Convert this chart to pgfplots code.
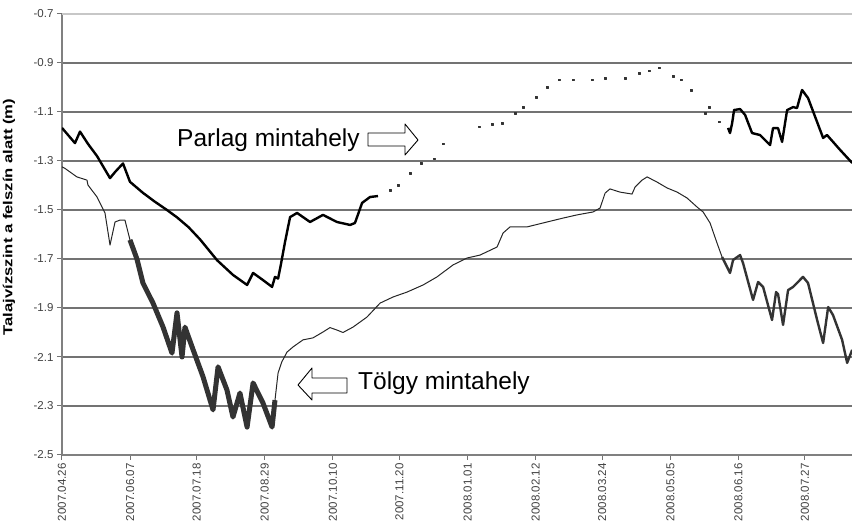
\documentclass[border=0pt]{standalone}
\usepackage{pgfplots}
\pgfplotsset{compat=1.18}
\usepackage{graphicx}
\usepackage{fontspec}
\setmainfont{Liberation Sans}

\pgfplotstableread{
day val
0 -1.165
8.0 -1.227
11.1 -1.18
16.0 -1.23
21.6 -1.28
29.6 -1.37
32.7 -1.345
37.6 -1.31
41.9 -1.385
49.9 -1.43
57.0 -1.465
64.7 -1.50
70.9 -1.53
78.0 -1.57
85.1 -1.62
95.6 -1.705
105.4 -1.765
114.1 -1.806
117.8 -1.757
123.9 -1.786
129.5 -1.814
131.3 -1.773
133.2 -1.78
135.0 -1.72
137.5 -1.63
140.6 -1.529
144.9 -1.512
152.9 -1.549
160.9 -1.52
169.5 -1.549
177.6 -1.561
180.6 -1.553
185.0 -1.471
189.9 -1.447
194.8 -1.443
}\parlagA

\pgfplotstableread{
day val
202.2 -1.42
207.2 -1.40
214.5 -1.35
221.3 -1.31
229.3 -1.29
234.9 -1.23
257.1 -1.16
265.1 -1.15
271.3 -1.145
279.3 -1.104
284.2 -1.08
292.2 -1.04
299.0 -0.998
306.4 -0.969
315.0 -0.969
326.8 -0.969
334.8 -0.961
347.1 -0.961
355.7 -0.942
361.9 -0.932
368.1 -0.920
376.7 -0.953
381.6 -0.969
387.8 -1.01
396.4 -1.105
398.9 -1.08
405.1 -1.14
}\parlagDots

\pgfplotstableread{
day val
410.6 -1.165
411.8 -1.186
413.1 -1.146
414.3 -1.092
418.0 -1.088
421.1 -1.112
425.4 -1.186
430.3 -1.194
436.5 -1.235
438.3 -1.166
441.4 -1.166
443.9 -1.222
447.0 -1.092
450.7 -1.08
453.1 -1.084
456.2 -1.01
459.9 -1.043
469.2 -1.206
471.6 -1.194
479.7 -1.255
487.1 -1.308
}\parlagB

\pgfplotstableread{
day val
0 -1.324
1.8 -1.33
9.2 -1.365
15.4 -1.378
16.0 -1.398
21.6 -1.447
26.5 -1.512
29.6 -1.643
32.7 -1.549
35.8 -1.541
38.8 -1.541
41.9 -1.622
}\tolgyA

\pgfplotstableread{
day val
41.9 -1.622
46.2 -1.70
49.9 -1.798
56.1 -1.88
62.3 -1.978
67.8 -2.084
70.9 -1.92
74.0 -2.10
75.8 -1.978
80.8 -2.07
86.9 -2.18
93.1 -2.316
96.2 -2.14
101.7 -2.235
105.4 -2.345
109.7 -2.247
114.1 -2.386
117.8 -2.206
123.9 -2.288
129.5 -2.386
131.3 -2.276
}\tolgyB

\pgfplotstableread{
day val
131.3 -2.276
133.2 -2.165
135.5 -2.12
138.7 -2.08
142.4 -2.059
148.6 -2.03
154.7 -2.022
160.9 -1.998
165.2 -1.98
169.5 -1.99
173.2 -2.0
179.4 -1.978
188.0 -1.937
196.1 -1.88
204.1 -1.855
212.7 -1.835
222.6 -1.806
231.2 -1.773
241.1 -1.724
249.7 -1.696
257.7 -1.684
268.2 -1.651
271.9 -1.594
276.2 -1.569
286.7 -1.569
299.0 -1.549
308.9 -1.533
317.5 -1.52
327.4 -1.508
331.7 -1.492
334.8 -1.431
337.8 -1.414
344.0 -1.427
351.4 -1.435
353.3 -1.406
357.6 -1.378
360.7 -1.365
366.8 -1.386
373.0 -1.41
379.2 -1.427
385.3 -1.451
391.5 -1.488
395.2 -1.508
399.5 -1.553
403.8 -1.635
406.9 -1.692
}\tolgyC

\pgfplotstableread{
day val
406.9 -1.692
411.8 -1.757
413.7 -1.704
418.0 -1.684
419.8 -1.716
426.0 -1.867
429.1 -1.794
432.2 -1.814
437.7 -1.949
440.2 -1.835
441.4 -1.843
444.5 -1.969
447.6 -1.827
450.7 -1.814
456.8 -1.773
459.9 -1.798
465.5 -1.949
469.2 -2.043
472.3 -1.896
475.3 -1.929
480.9 -2.03
484.0 -2.124
487.1 -2.071
}\tolgyD

\begin{document}
\begin{tikzpicture}[line join=round, line cap=round]
\begin{axis}[
  at={(0pt,0pt)}, anchor=south west,
  scale only axis, width=790pt, height=441pt,
  xmin=0, xmax=487, ymin=-2.5, ymax=-0.7,
  axis x line=bottom, axis y line=left,
  axis line style={-, black!50, line width=1.2pt},
  clip=true,
  ytick={-2.5,-2.3,-2.1,-1.9,-1.7,-1.5,-1.3,-1.1,-0.9},
  yticklabels={-2.5,-2.3,-2.1,-1.9,-1.7,-1.5,-1.3,-1.1,-0.9},
  extra y ticks={-0.7}, extra y tick labels={-0.7},
  extra y tick style={grid style={black!22, line width=1.2pt}},
  ymajorgrids,
  grid style={black!55, line width=1.1pt},
  xtick={0,42,83,125,167,208,250,292,333,375,417,458},
  xticklabels={2007.04.26,2007.06.07,2007.07.18,2007.08.29,2007.10.10,2007.11.20,2008.01.01,2008.02.12,2008.03.24,2008.05.05,2008.06.16,2008.07.27},
  x tick label style={rotate=90, anchor=east},
  tick label style={font=\fontsize{11.5}{12}\selectfont, text=black!75},
  tick align=outside, major tick length=5pt,
  tick style={black!55, line width=1pt},
]
\addplot[black, line width=2.4pt] table[x=day,y=val] {\parlagA};
\addplot[black!80, only marks, mark=square*, mark size=0.8pt] table[x=day,y=val] {\parlagDots};
\addplot[black, line width=2.4pt] table[x=day,y=val] {\parlagB};
\addplot[black!85, line width=1pt] table[x=day,y=val] {\tolgyA};
\addplot[black!80, line width=5pt] table[x=day,y=val] {\tolgyB};
\addplot[black!85, line width=1pt] table[x=day,y=val] {\tolgyC};
\addplot[black!80, line width=2.4pt] table[x=day,y=val] {\tolgyD};
\end{axis}
% annotations (pt coordinates relative to the axis' lower left corner)
\draw[black, line width=0.9pt, fill=white]
  (306pt,322pt) -- (343pt,322pt) -- (343pt,331pt) -- (356pt,315pt) -- (343pt,300pt) -- (343pt,309pt) -- (306pt,309pt) -- cycle;
\node[anchor=base west, inner sep=0pt, font=\fontsize{24.5}{26}\selectfont] at (115pt,308pt) {Parlag mintahely};
\draw[black, line width=0.9pt, fill=white]
  (236pt,70pt) -- (250pt,87pt) -- (250pt,77pt) -- (285pt,77pt) -- (285pt,62pt) -- (250pt,62pt) -- (250pt,55pt) -- cycle;
\node[anchor=base west, inner sep=0pt, font=\fontsize{24.5}{26}\selectfont] at (296pt,65pt) {Tölgy mintahely};
\node[rotate=90, inner sep=0pt] at (-53pt,238pt) {\scalebox{1.28}[1]{\bfseries\fontsize{13}{14}\selectfont Talajvízszint a felszín alatt (m)}};
\pgfresetboundingbox
\path (-62pt,-66pt) rectangle (790pt,455pt);
\end{tikzpicture}
\end{document}
